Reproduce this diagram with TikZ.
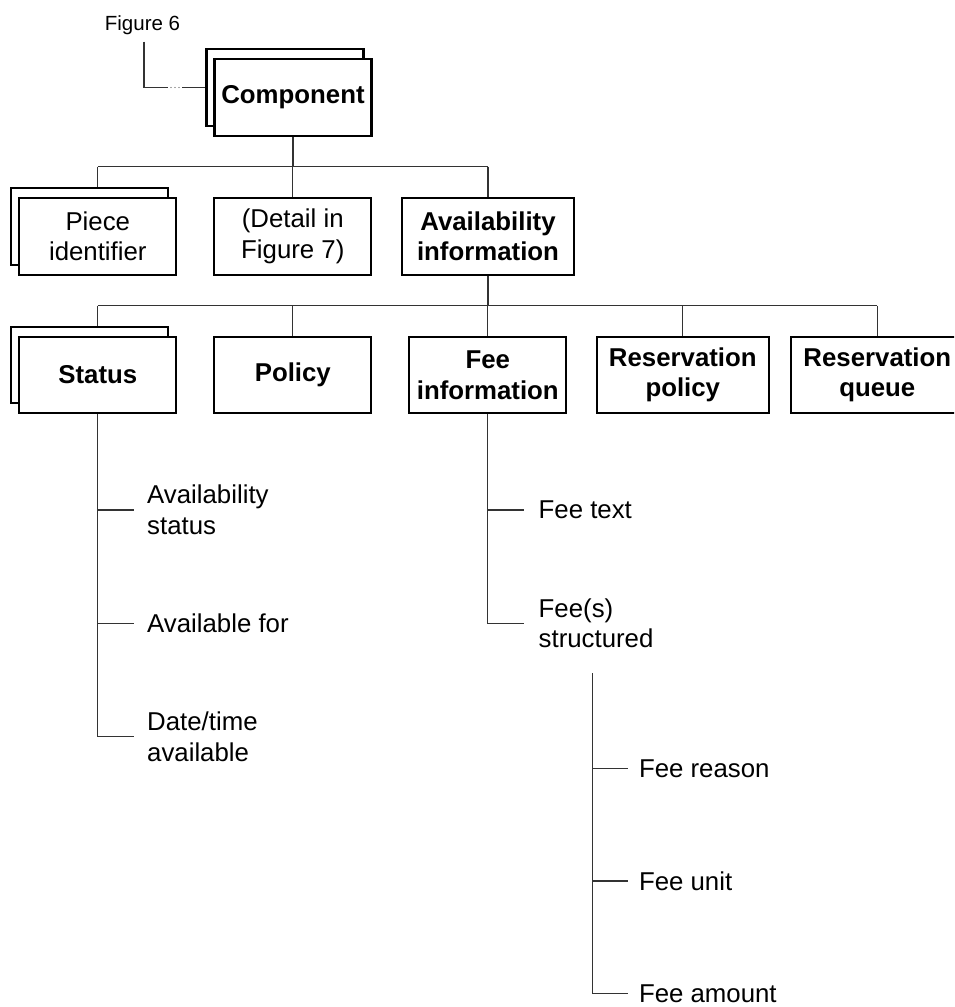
\documentclass[tikz,border=0pt]{standalone}
\usepackage{fontspec}
\setmainfont{Liberation Sans}
\begin{document}
\begin{tikzpicture}[x=1pt,y=-1pt,
  txt/.style={font=\fontsize{25.8pt}{30.5pt}\selectfont},
  boldtxt/.style={font=\fontsize{25.8pt}{30.5pt}\selectfont\bfseries},
  box/.style={draw=black, line width=2.3pt, fill=white, minimum width=157pt,
    minimum height=76.5pt, inner sep=2pt, align=center, txt},
  wide/.style={minimum width=172pt},
  bold/.style={boldtxt},
  conn/.style={draw=black!80, line width=1.2pt},
  leaf/.style={anchor=west, align=left, inner ysep=0pt, inner xsep=13pt, txt},
  dotmark/.style={fill=black!70},
]
\useasboundingbox (0,0) rectangle (954,1007);
\clip (0,0) rectangle (954,1007);

% top record with its stacked copy
\node[box] (compBack) at (285,87.5) {};
\node[box, bold] (comp) at (293,97.5) {Component};

% reference from the previous figure
\node[inner sep=0pt, anchor=base, font=\fontsize{20.5pt}{24pt}\selectfont] (fig6) at (142.5,30) {Figure 6};
\coordinate (figTop) at (144,41.7);
\coordinate (gapL) at (168,87.5);
\coordinate (gapR) at (182,87.5);
\draw[conn] (figTop) |- (gapL);
\foreach \dx in {171,175,179} \fill[dotmark] (\dx,87.5) circle (0.7pt);
\draw[conn] (gapR) -- (compBack.west);

% second level
\node[box] (pieceBack) at (89.8,226.5) {};
\node[box] (piece) at (97.8,236.5) {Piece\\identifier};
\node[box] (detail) at (292.8,236.5) {(Detail in\\Figure 7)};
\node[box, wide, bold] (avail) at (488,236.5) {Availability\\information};

\coordinate (b1) at (0,166.7);
\draw[conn] (comp.south) -- (comp.south |- b1);
\draw[conn] (piece.center |- b1) -- (avail.center |- b1);
\draw[conn] (piece.center |- b1) -- (piece.center |- pieceBack.north);
\draw[conn] (detail.north |- b1) -- (detail.north);
\draw[conn] (avail.north |- b1) -- (avail.north);

% third level
\node[box] (statusBack) at (89.8,365) {};
\node[box, bold] (status) at (97.8,375) {Status};
\node[box, bold] (policy) at (292.8,375) {Policy};
\node[box, bold] (fee) at (487.8,375) {Fee\\information};
\node[box, wide, bold] (respol) at (682.8,375) {Reservation\\policy};
\node[box, wide, bold] (resq) at (877.3,375) {Reservation\\queue};

\coordinate (b2) at (0,305.7);
\draw[conn] (avail.south) -- (avail.south |- b2);
\draw[conn] (status.center |- b2) -- (resq.center |- b2);
\draw[conn] (status.center |- b2) -- (status.center |- statusBack.north);
\draw[conn] (policy.north |- b2) -- (policy.north);
\draw[conn] (fee.north |- b2) -- (fee.north);
\draw[conn] (respol.north |- b2) -- (respol.north);
\draw[conn] (resq.north |- b2) -- (resq.north);

% status elements
\node[leaf] (lAvStat) at (134,510) {Availability\\status};
\node[leaf] (lAvFor) at (134,623.3) {Available for};
\node[leaf] (lDate) at (134,736.7) {Date/time\\available};
\draw[conn] (status.south) |- (lDate.west);
\draw[conn] (status.south |- lAvStat.west) -- (lAvStat.west);
\draw[conn] (status.south |- lAvFor.west) -- (lAvFor.west);

% fee elements
\node[leaf, inner xsep=14.5pt] (lFeeText) at (524,510) {Fee text};
\node[leaf, inner xsep=14.5pt] (lFeeStr) at (524,623.3) {Fee(s)\\structured};
\draw[conn] (fee.south) |- (lFeeStr.west);
\draw[conn] (fee.south |- lFeeText.west) -- (lFeeText.west);

% structured fee elements
\coordinate (subTop) at (592.7,673.3);
\node[leaf, inner xsep=10.5pt] (lReason) at (628.3,768.3) {Fee reason};
\node[leaf, inner xsep=10.5pt] (lUnit) at (628.3,881) {Fee unit};
\node[leaf, inner xsep=10.5pt] (lAmount) at (628.3,993.3) {Fee amount};
\draw[conn] (subTop) |- (lAmount.west);
\draw[conn] (subTop |- lReason.west) -- (lReason.west);
\draw[conn] (subTop |- lUnit.west) -- (lUnit.west);
\end{tikzpicture}
\end{document}
